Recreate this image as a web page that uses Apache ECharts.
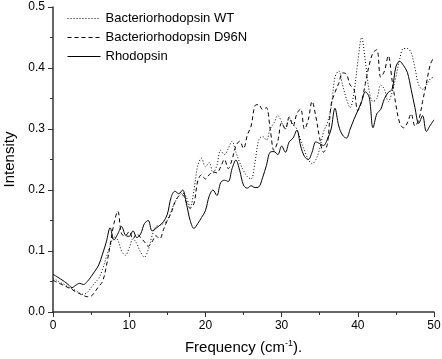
<!DOCTYPE html>
<html>
<head>
<meta charset="utf-8">
<script src="https://cdn.jsdelivr.net/npm/echarts@6/dist/echarts.min.js"></script>
<style>
  html, body { margin: 0; padding: 0; background: #fff; }
  #chart { width: 442px; height: 359px; }
</style>
</head>
<body>
<div id="chart"></div>
<script>
// spectra sampled every 0.5 cm-1 from 0 to 50
const freqStep = 0.5;

const wtValues = [
  0.055, 0.052, 0.048, 0.045, 0.041, 0.038, 0.035, 0.031, 0.029, 0.032,
  0.040, 0.048, 0.055, 0.070, 0.090, 0.108, 0.123, 0.118, 0.100, 0.093,
  0.105, 0.120, 0.112, 0.098, 0.090, 0.102, 0.125, 0.140, 0.142, 0.145,
  0.150, 0.165, 0.180, 0.190, 0.195, 0.188, 0.172, 0.200, 0.240, 0.252,
  0.238, 0.245, 0.228, 0.240, 0.265, 0.258, 0.268, 0.280, 0.262, 0.245,
  0.232, 0.222, 0.218, 0.245, 0.282, 0.288, 0.282, 0.300, 0.310, 0.322,
  0.312, 0.300, 0.318, 0.308, 0.300, 0.282, 0.265, 0.250, 0.243, 0.250,
  0.268, 0.295, 0.310, 0.335, 0.385, 0.395, 0.372, 0.350, 0.335, 0.360,
  0.410, 0.450, 0.410, 0.362, 0.345, 0.350, 0.372, 0.365, 0.345, 0.360,
  0.385, 0.415, 0.432, 0.432, 0.425, 0.400, 0.372, 0.365, 0.372, 0.382,
  0.385
];

const d96nValues = [
  0.052, 0.049, 0.046, 0.043, 0.040, 0.037, 0.033, 0.030, 0.027, 0.025,
  0.026, 0.033, 0.042, 0.050, 0.075, 0.110, 0.145, 0.165, 0.128, 0.125,
  0.132, 0.120, 0.128, 0.122, 0.115, 0.108, 0.115, 0.125, 0.120, 0.135,
  0.150, 0.162, 0.180, 0.190, 0.192, 0.180, 0.170, 0.178, 0.215, 0.225,
  0.218, 0.225, 0.230, 0.228, 0.238, 0.250, 0.235, 0.250, 0.272, 0.280,
  0.268, 0.290, 0.305, 0.338, 0.340, 0.332, 0.335, 0.300, 0.265, 0.280,
  0.310, 0.300, 0.320, 0.305, 0.325, 0.333, 0.300, 0.315, 0.345, 0.320,
  0.285, 0.262, 0.275, 0.340, 0.360, 0.375, 0.392, 0.390, 0.372, 0.365,
  0.330, 0.345, 0.375, 0.405, 0.425, 0.430, 0.385, 0.395, 0.420, 0.380,
  0.340, 0.310, 0.302, 0.310, 0.325, 0.305, 0.315, 0.345, 0.375, 0.405,
  0.418
];

const rhoValues = [
  0.062, 0.058, 0.054, 0.050, 0.045, 0.040, 0.044, 0.047, 0.045, 0.050,
  0.058, 0.067, 0.077, 0.095, 0.115, 0.138, 0.118, 0.128, 0.140, 0.126,
  0.124, 0.133, 0.122, 0.128, 0.145, 0.150, 0.133, 0.137, 0.142, 0.148,
  0.160, 0.188, 0.198, 0.194, 0.200, 0.178, 0.150, 0.137, 0.145, 0.155,
  0.166, 0.190, 0.200, 0.191, 0.212, 0.216, 0.214, 0.235, 0.249, 0.232,
  0.208, 0.203, 0.207, 0.204, 0.205, 0.220, 0.240, 0.262, 0.263, 0.258,
  0.272, 0.262, 0.279, 0.285, 0.298, 0.272, 0.255, 0.250, 0.262, 0.279,
  0.276, 0.273, 0.283, 0.300, 0.334, 0.305, 0.290, 0.285, 0.300, 0.316,
  0.330, 0.345, 0.361, 0.352, 0.302, 0.325, 0.332, 0.350, 0.360, 0.365,
  0.402, 0.411, 0.404, 0.393, 0.365, 0.335, 0.309, 0.322, 0.296, 0.306,
  0.315
];

const seriesNames = ['Bacteriorhodopsin WT', 'Bacteriorhodopsin D96N', 'Rhodopsin'];

function toPairs(values) {
  return values.map((v, i) => [i * freqStep, v]);
}

const font = '"Liberation Sans", Arial, sans-serif';
const axisColor = '#333';

const chart = echarts.init(document.getElementById('chart'), null, { renderer: 'canvas' });

const lineTypes = [[1, 2], [4, 3], 'solid'];
const allValues = [wtValues, d96nValues, rhoValues];

chart.setOption({
  animation: false,
  textStyle: { fontFamily: font },
  grid: { left: 53, right: 8, top: 7, bottom: 47, containLabel: false, outerBoundsMode: 'none' },
  legend: {
    orient: 'vertical',
    left: 67,
    top: 12,
    padding: 0,
    itemWidth: 33,
    itemHeight: 12,
    itemGap: 6,
    itemStyle: { color: 'transparent', borderWidth: 0 },
    lineStyle: { width: 1 },
    textStyle: { fontFamily: font, fontSize: 13, color: '#000' },
    data: seriesNames
  },
  xAxis: {
    type: 'value',
    min: 0,
    max: 50,
    interval: 10,
    name: 'Frequency (cm{sup|-1}).',
    nameLocation: 'middle',
    nameGap: 27,
    nameTextStyle: {
      fontFamily: font, fontSize: 15, color: '#000', lineHeight: 18,
      rich: { sup: { fontSize: 9, verticalAlign: 'top', lineHeight: 10, fontFamily: font, color: '#000' } }
    },
    axisLine: { lineStyle: { color: axisColor, width: 1.5 } },
    axisTick: { length: 5, lineStyle: { color: axisColor } },
    minorTick: { show: true, splitNumber: 2, length: 3, lineStyle: { color: axisColor } },
    axisLabel: { margin: 8, fontSize: 12, color: '#000', fontFamily: font },
    splitLine: { show: false }
  },
  yAxis: {
    type: 'value',
    min: 0,
    max: 0.5,
    interval: 0.1,
    name: 'Intensity',
    nameLocation: 'middle',
    nameGap: 36,
    nameTextStyle: { fontFamily: font, fontSize: 15, color: '#000' },
    axisLine: { show: true, lineStyle: { color: axisColor, width: 1.5 } },
    axisTick: { show: true, length: 5, lineStyle: { color: axisColor } },
    minorTick: { show: true, splitNumber: 2, length: 3, lineStyle: { color: axisColor } },
    axisLabel: {
      margin: 8, fontSize: 12, color: '#000', fontFamily: font,
      formatter: v => v.toFixed(1)
    },
    splitLine: { show: false }
  },
  series: seriesNames.map((name, k) => ({
    name: name,
    type: 'line',
    data: toPairs(allValues[k]),
    symbol: 'none',
    smooth: 0.35,
    lineStyle: { color: '#000', width: 1, type: lineTypes[k] },
    itemStyle: { color: '#000' },
    z: 3 - k
  }))
});
</script>
</body>
</html>
